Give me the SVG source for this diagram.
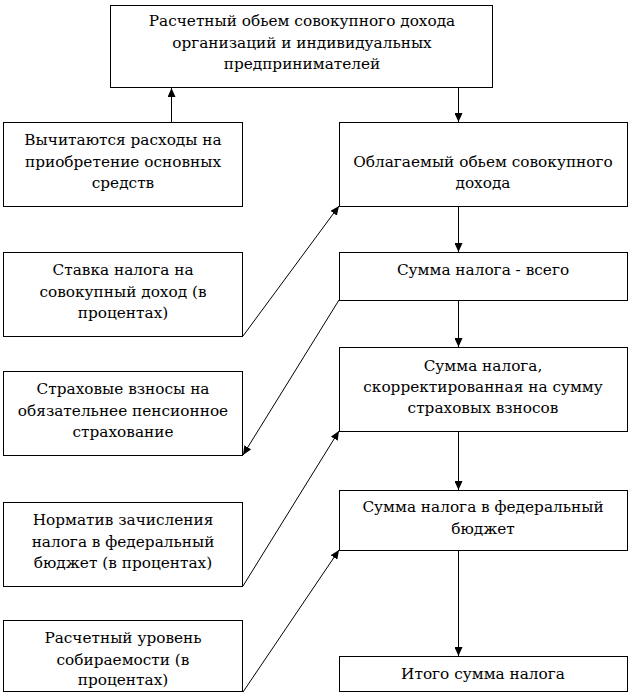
<svg xmlns="http://www.w3.org/2000/svg" width="630" height="696" viewBox="0 0 630 696">
<style>
.box{fill:#fff;stroke:#000;stroke-width:1}
.c{stroke:#000;stroke-width:1;fill:none;marker-end:url(#ah)}
</style>
<defs>
<marker id="ah" markerUnits="userSpaceOnUse" markerWidth="10" markerHeight="8" refX="9" refY="4" orient="auto">
<path d="M0,0 L9,4 L0,8 Z" fill="#000"/>
</marker>
</defs>
<rect width="630" height="696" fill="#fff"/>
<g id="connectors">
<line class="c" x1="171.5" y1="122" x2="171.5" y2="88"/>
<line class="c" x1="458.5" y1="87" x2="458.5" y2="122"/>
<line class="c" x1="458.5" y1="206" x2="458.5" y2="252"/>
<line class="c" x1="458.5" y1="300" x2="458.5" y2="347"/>
<line class="c" x1="458.5" y1="431" x2="458.5" y2="490"/>
<line class="c" x1="458.5" y1="550" x2="458.5" y2="656"/>
<line class="c" x1="243" y1="336" x2="339" y2="206"/>
<line class="c" x1="339" y1="300" x2="243" y2="455"/>
<line class="c" x1="243" y1="692" x2="339" y2="550"/>
<line class="c" x1="243" y1="586" x2="339" y2="431"/>
</g>
<g font-family="DejaVu Serif, serif" font-size="15.3" text-anchor="middle" fill="#000">
<g id="n-top">
<rect class="box" x="110.5" y="5.5" width="382" height="82"/>
<text x="302" y="26">Расчетный обьем совокупного дохода</text>
<text x="302" y="48">организаций и индивидуальных</text>
<text x="302" y="69">предпринимателей</text>
</g>
<g id="n-deduct">
<rect class="box" x="3.5" y="122.5" width="239" height="84"/>
<text x="123" y="145">Вычитаются расходы на</text>
<text x="123" y="167">приобретение основных</text>
<text x="123" y="188">средств</text>
</g>
<g id="n-taxable">
<rect class="box" x="339.5" y="122.5" width="288" height="84"/>
<text x="483" y="167">Облагаемый обьем совокупного</text>
<text x="483" y="188">дохода</text>
</g>
<g id="n-rate">
<rect class="box" x="3.5" y="252.5" width="239" height="84"/>
<text x="123" y="275">Ставка налога на</text>
<text x="123" y="297">совокупный доход (в</text>
<text x="123" y="318">процентах)</text>
</g>
<g id="n-total">
<rect class="box" x="339.5" y="252.5" width="288" height="48"/>
<text x="483" y="275">Сумма налога - всего</text>
</g>
<g id="n-insurance">
<rect class="box" x="3.5" y="371.5" width="239" height="84"/>
<text x="123" y="394">Страховые взносы на</text>
<text x="123" y="416">обязательнее пенсионное</text>
<text x="123" y="437">страхование</text>
</g>
<g id="n-corrected">
<rect class="box" x="339.5" y="347.5" width="288" height="84"/>
<text x="483" y="370.5">Сумма налога,</text>
<text x="483" y="392">скорректированная на сумму</text>
<text x="483" y="413">страховых взносов</text>
</g>
<g id="n-norm">
<rect class="box" x="3.5" y="502.5" width="239" height="84"/>
<text x="123" y="525">Норматив зачисления</text>
<text x="123" y="547">налога в федеральный</text>
<text x="123" y="568">бюджет (в процентах)</text>
</g>
<g id="n-federal">
<rect class="box" x="339.5" y="490.5" width="288" height="60"/>
<text x="483" y="512">Сумма налога в федеральный</text>
<text x="483" y="534">бюджет</text>
</g>
<g id="n-level">
<rect class="box" x="3.5" y="620.5" width="239" height="71"/>
<text x="123" y="643">Расчетный уровень</text>
<text x="123" y="665">собираемости (в</text>
<text x="123" y="685">процентах)</text>
</g>
<g id="n-final">
<rect class="box" x="339.5" y="656.5" width="288" height="35"/>
<text x="483" y="679">Итого сумма налога</text>
</g>
</g>
</svg>
